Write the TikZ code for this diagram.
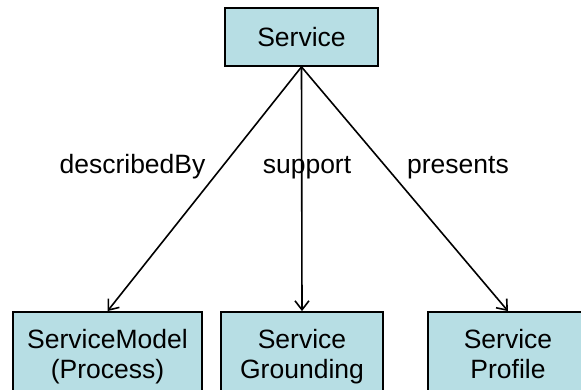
\documentclass[tikz,border=0pt]{standalone}
\usepackage{fontspec}
\setmainfont{Liberation Sans}
\usetikzlibrary{arrows.meta}
\definecolor{boxfill}{RGB}{183,222,228}
\begin{document}
\begin{tikzpicture}[x=1pt,y=-1pt,
  box/.style={draw=black, line width=1.8pt, fill=boxfill, inner sep=0pt},
  txt/.style={font=\fontsize{26.5}{30}\selectfont, anchor=base, inner sep=0pt},
  conn/.style={draw=black, line width=1.6pt, -{Straight Barb[length=9pt,width=14pt,line width=1.6pt]}}]
\useasboundingbox (0,0) rectangle (581,390);
\fill[white] (0,0) rectangle (581,390);
% top box
\node[box, minimum width=153pt, minimum height=58pt, font=\fontsize{26.5}{30}\selectfont] (svc) at (301.5,37) {Service};
% bottom boxes (cut off by the page bottom)
\node[box, minimum width=189pt, minimum height=98pt] (model) at (107.5,361) {};
\node[box, minimum width=162pt, minimum height=98pt] (ground) at (302,361) {};
\node[box, minimum width=160pt, minimum height=98pt] (profile) at (508,361) {};
% box texts
\node[txt] (m1) at (107.5,348) {ServiceModel};
\node[txt] (m2) at (107.5,378) {(Process)};
\node[txt] (g1) at (302,348) {Service};
\node[txt] (g2) at (302,378) {Grounding};
\node[txt] (p1) at (508,348) {Service};
\node[txt] (p2) at (508,378) {Profile};
% connectors
\draw[conn] (svc.south) -- (model.north);
\draw[conn] (svc.south) -- (ground.north);
\draw[conn] (svc.south) -- (profile.north);
% labels
\node[txt] (l1) at (132.5,174) {describedBy};
\node[txt] (l2) at (307,174) {support};
\node[txt] (l3) at (458,174) {presents};
\end{tikzpicture}
\end{document}
